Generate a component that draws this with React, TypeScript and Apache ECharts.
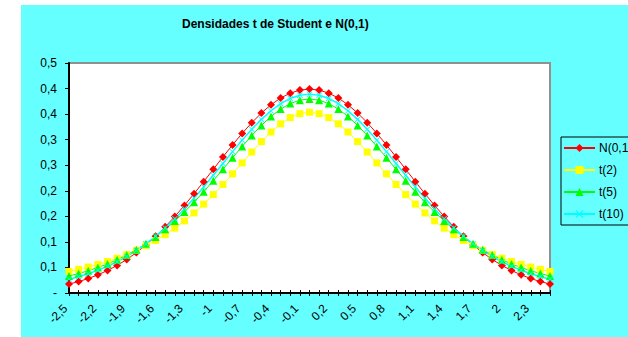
import React, { useEffect, useRef } from "react";
import * as echarts from "echarts";

const categories = [
  -2.5, -2.4, -2.3, -2.2, -2.1, -2.0, -1.9, -1.8, -1.7, -1.6, -1.5, -1.4, -1.3, -1.2, -1.1, -1.0,
  -0.9, -0.8, -0.7, -0.6, -0.5, -0.4, -0.3, -0.2, -0.1, 0.0, 0.1, 0.2, 0.3, 0.4, 0.5, 0.6, 0.7,
  0.8, 0.9, 1.0, 1.1, 1.2, 1.3, 1.4, 1.5, 1.6, 1.7, 1.8, 1.9, 2.0, 2.1, 2.2, 2.3, 2.4, 2.5,
];

const normal = [
  0.0175, 0.0224, 0.0283, 0.0355, 0.044, 0.054, 0.0656, 0.079, 0.094, 0.1109, 0.1295, 0.1497,
  0.1714, 0.1942, 0.2179, 0.242, 0.2661, 0.2897, 0.3123, 0.3332, 0.3521, 0.3683, 0.3814, 0.391,
  0.397, 0.3989, 0.397, 0.391, 0.3814, 0.3683, 0.3521, 0.3332, 0.3123, 0.2897, 0.2661, 0.242,
  0.2179, 0.1942, 0.1714, 0.1497, 0.1295, 0.1109, 0.094, 0.079, 0.0656, 0.054, 0.044, 0.0355,
  0.0283, 0.0224, 0.0175,
];

const t2 = [
  0.0422, 0.0463, 0.0508, 0.0559, 0.0616, 0.068, 0.0753, 0.0834, 0.0925, 0.1027, 0.1141, 0.1269,
  0.1411, 0.1567, 0.1739, 0.1925, 0.2123, 0.2331, 0.2545, 0.2758, 0.2963, 0.315, 0.331, 0.3432,
  0.3509, 0.3536, 0.3509, 0.3432, 0.331, 0.315, 0.2963, 0.2758, 0.2545, 0.2331, 0.2123, 0.1925,
  0.1739, 0.1567, 0.1411, 0.1269, 0.1141, 0.1027, 0.0925, 0.0834, 0.0753, 0.068, 0.0616, 0.0559,
  0.0508, 0.0463, 0.0422,
];

const t5 = [
  0.0333, 0.0381, 0.0436, 0.0498, 0.0569, 0.0651, 0.0743, 0.0848, 0.0966, 0.1098, 0.1245, 0.1407,
  0.1585, 0.1777, 0.1981, 0.2197, 0.2419, 0.2645, 0.2868, 0.3081, 0.3279, 0.3454, 0.3598, 0.3706,
  0.3773, 0.3796, 0.3773, 0.3706, 0.3598, 0.3454, 0.3279, 0.3081, 0.2868, 0.2645, 0.2419, 0.2197,
  0.1981, 0.1777, 0.1585, 0.1407, 0.1245, 0.1098, 0.0966, 0.0848, 0.0743, 0.0651, 0.0569, 0.0498,
  0.0436, 0.0381, 0.0333,
];

const t10 = [
  0.0269, 0.0319, 0.0377, 0.0444, 0.0522, 0.0612, 0.0714, 0.0831, 0.0963, 0.1111, 0.1274, 0.1454,
  0.1649, 0.1857, 0.2076, 0.2304, 0.2535, 0.2766, 0.2991, 0.3203, 0.3397, 0.3566, 0.3704, 0.3807,
  0.387, 0.3891, 0.387, 0.3807, 0.3704, 0.3566, 0.3397, 0.3203, 0.2991, 0.2766, 0.2535, 0.2304,
  0.2076, 0.1857, 0.1649, 0.1454, 0.1274, 0.1111, 0.0963, 0.0831, 0.0714, 0.0612, 0.0522, 0.0444,
  0.0377, 0.0319, 0.0269,
];

const seriesNames = ["N(0,1)", "t(2)", "t(5)", "t(10)"];
const title = "Densidades t de Student e N(0,1)";

const FONT = "Arial, 'Liberation Sans', sans-serif";
const crossPath =
  "path://M0,1 L1,0 L5,4 L9,0 L10,1 L6,5 L10,9 L9,10 L5,6 L1,10 L0,9 L4,5 Z";

function fmtX(v: string | number) {
  const n = Number(v);
  return String(Math.round(n * 10) / 10).replace(".", ",");
}

function fmtY(v: number) {
  if (Math.abs(v) < 1e-9) return "-";
  return (Math.round(v * 10 + 1e-6) / 10).toFixed(1).replace(".", ",");
}

export default function App() {
  const ref = useRef<HTMLDivElement>(null);
  useEffect(() => {
    document.body.style.margin = "0";
    const chart = echarts.init(ref.current!, null, { renderer: "svg" });
    const cats = categories.map((c) => String(c));
    const grid = { left: 69, top: 63, right: 78, bottom: 44 };
    const common = { showAllSymbol: true, type: "line" as const };
    chart.setOption({
      animation: false,
      backgroundColor: "#ffffff",
      graphic: [
        {
          type: "rect",
          left: 21,
          top: 5,
          z: -10,
          shape: { width: 607, height: 332 },
          style: { fill: "#66ffff" },
          silent: true,
        },
      ],
      title: {
        text: title,
        left: 182,
        top: 18,
        padding: 0,
        textStyle: { fontFamily: FONT, fontSize: 12, fontWeight: "bold", color: "#000" },
      },
      legend: {
        orient: "vertical",
        left: 561,
        top: 137,
        padding: [5, 8, 5, 2],
        itemWidth: 31,
        itemHeight: 10,
        itemGap: 10,
        borderColor: "#000",
        borderWidth: 1,
        backgroundColor: "#66ffff",
        data: seriesNames,
        textStyle: { fontFamily: FONT, fontSize: 12, color: "#000", padding: [0, 0, 0, -1] },
      },
      grid: {
        ...grid,
        show: true,
        backgroundColor: "#ffffff",
        borderColor: "#909090",
        borderWidth: 2,
      },
      xAxis: [
        {
          type: "category",
          data: cats,
          boundaryGap: false,
          axisLine: { lineStyle: { color: "#000", width: 2 } },
          axisTick: { show: true, interval: 0, length: 3, lineStyle: { color: "#000" } },
          axisLabel: {
            interval: 2,
            rotate: 45,
            margin: 10,
            padding: [0, 5, 0, 0],
            formatter: fmtX,
            fontFamily: FONT,
            fontSize: 12,
            color: "#000",
          },
          splitLine: { show: false },
        },
        {
          type: "category",
          data: cats,
          position: "bottom",
          boundaryGap: false,
          axisLine: { show: false },
          axisTick: { show: true, inside: true, interval: 0, length: 3, lineStyle: { color: "#000" } },
          axisLabel: { show: false },
          splitLine: { show: false },
        },
      ],
      yAxis: {
        type: "value",
        min: 0,
        max: 0.45,
        interval: 0.05,
        axisLine: { show: true, lineStyle: { color: "#000", width: 2 } },
        axisTick: { show: true, length: 4, lineStyle: { color: "#000" } },
        axisLabel: {
          showMinLabel: true,
          hideOverlap: false,
          formatter: fmtY,
          fontFamily: FONT,
          fontSize: 12,
          color: "#000",
          margin: 12,
        },
        splitLine: { show: false },
      },
      series: [
        {
          ...common,
          name: seriesNames[0],
          data: normal,
          symbol: "diamond",
          symbolSize: 8,
          itemStyle: { color: "#ff0000" },
          lineStyle: { color: "#ff0000", width: 1 },
        },
        {
          ...common,
          name: seriesNames[1],
          data: t2,
          symbol: "rect",
          symbolSize: 7,
          itemStyle: { color: "#ffff00" },
          lineStyle: { color: "#ffff00", width: 1 },
        },
        {
          ...common,
          name: seriesNames[2],
          data: t5,
          symbol: "triangle",
          symbolSize: 8,
          itemStyle: { color: "#00ff00" },
          lineStyle: { color: "#00ff00", width: 1 },
        },
        {
          ...common,
          name: seriesNames[3],
          data: t10,
          symbol: crossPath,
          symbolSize: 6,
          itemStyle: { color: "#00ffff" },
          lineStyle: { color: "#00ffff", width: 1.5 },
        },
      ],
    });
    return () => chart.dispose();
  }, []);
  return <div ref={ref} style={{ width: 628, height: 337, position: "absolute", left: 0, top: 0 }} />;
}
